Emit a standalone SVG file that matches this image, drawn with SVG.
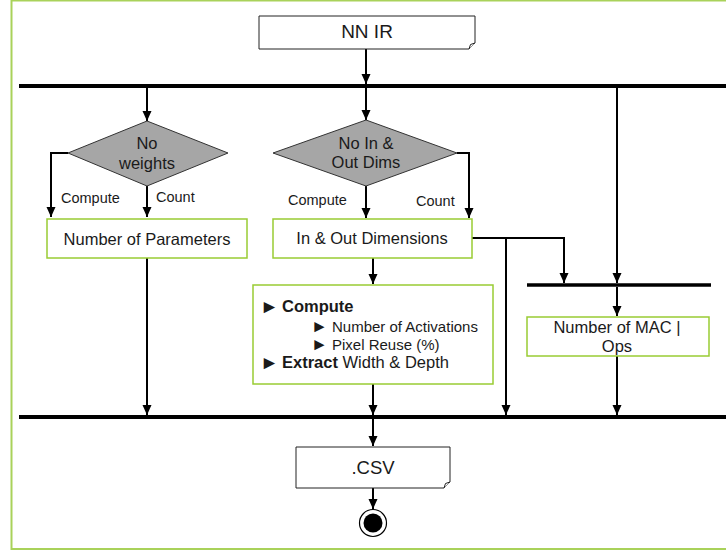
<svg xmlns="http://www.w3.org/2000/svg" width="726" height="554" viewBox="0 0 726 554">
  <defs>
    <marker id="arrow" markerUnits="userSpaceOnUse" markerWidth="10" markerHeight="10" viewBox="0 0 10 10" refX="10" refY="5" orient="auto">
      <path d="M0,0.5 L10,5 L0,9.5 Z" fill="#000"/>
    </marker>
  </defs>
  <style>
    text { font-family: "Liberation Sans", Arial, sans-serif; fill: #1a1a1a; }
    .frame { fill: none; stroke: #a9d25a; stroke-width: 2; }
    .box { fill: #fff; stroke: #99cc33; stroke-width: 1.5; }
    .doc { fill: #fff; stroke: #222; stroke-width: 1; }
    .decision { fill: #a6a6a6; stroke: #333; stroke-width: 1; }
    .bar { stroke: #000; stroke-width: 4; }
    .sub-bar { stroke: #000; stroke-width: 3.5; }
    .flow-arrow { fill: none; stroke: #000; stroke-width: 2; marker-end: url(#arrow); }
    .t-main { font-size: 16.5px; text-anchor: middle; }
    .t-title { font-size: 19px; text-anchor: middle; }
    .t-label { font-size: 14.5px; }
    .t-item { font-size: 16.5px; }
    .t-sub { font-size: 15px; }
    .bullet { font-size: 19px; }
    .bullet-sub { font-size: 17px; }
    .bold { font-weight: bold; }
  </style>

  <!-- outer frame -->
  <rect class="frame" x="11.5" y="0.5" width="730" height="548.5"/>

  <!-- synchronisation bars -->
  <g id="bars">
    <line class="bar" x1="19" y1="86" x2="726" y2="86"/>
    <line class="bar" x1="19" y1="417" x2="726" y2="417"/>
    <line class="sub-bar" x1="527" y1="285" x2="711" y2="285"/>
  </g>

  <!-- connectors -->
  <g id="connectors">
    <line class="flow-arrow" x1="366" y1="49" x2="366" y2="84"/>
    <!-- left branch -->
    <line class="flow-arrow" x1="147" y1="88" x2="147" y2="121"/>
    <polyline class="flow-arrow" points="68,153 51,153 51,217"/>
    <line class="flow-arrow" x1="147" y1="186" x2="147" y2="217"/>
    <line class="flow-arrow" x1="147" y1="258" x2="147" y2="415"/>
    <!-- middle branch -->
    <line class="flow-arrow" x1="366" y1="88" x2="366" y2="120"/>
    <line class="flow-arrow" x1="366" y1="186" x2="366" y2="218"/>
    <polyline class="flow-arrow" points="457,153 469,153 469,218"/>
    <line class="flow-arrow" x1="373" y1="258" x2="373" y2="284"/>
    <line class="flow-arrow" x1="373" y1="384" x2="373" y2="415"/>
    <polyline class="flow-arrow" points="472,238 564,238 564,283"/>
    <line class="flow-arrow" x1="506" y1="238" x2="506" y2="415"/>
    <!-- right branch -->
    <line class="flow-arrow" x1="617" y1="88" x2="617" y2="283"/>
    <line class="flow-arrow" x1="617" y1="287" x2="617" y2="316"/>
    <line class="flow-arrow" x1="617" y1="356" x2="617" y2="415"/>
    <!-- output -->
    <line class="flow-arrow" x1="373" y1="419" x2="373" y2="446"/>
    <line class="flow-arrow" x1="373" y1="488" x2="373" y2="509"/>
  </g>

  <g id="nn-ir">
    <path class="doc" d="M259,16 H475 V43 L469,49 H259 Z"/>
    <path class="doc" d="M469,49 L470.5,44.5 L475,43"/>
    <text class="t-title" x="367" y="38">NN IR</text>
  </g>

  <g id="no-weights">
    <polygon class="decision" points="147,121 228,153 147,186 68,153"/>
    <text class="t-main" x="147" y="149">No</text>
    <text class="t-main" x="147" y="169">weights</text>
    <text class="t-label" x="61" y="203">Compute</text>
    <text class="t-label" x="156" y="202">Count</text>
  </g>

  <g id="num-params">
    <rect class="box" x="47" y="219" width="200" height="39"/>
    <text class="t-main" x="147" y="245">Number of Parameters</text>
  </g>

  <g id="no-dims">
    <polygon class="decision" points="366,120 457,153 366,186 273,153"/>
    <text class="t-main" x="366" y="149">No In &amp;</text>
    <text class="t-main" x="366" y="168">Out Dims</text>
    <text class="t-label" x="288" y="205">Compute</text>
    <text class="t-label" x="416" y="206">Count</text>
  </g>

  <g id="in-out-dims">
    <rect class="box" x="273" y="219" width="199" height="39"/>
    <text class="t-main" x="372" y="244">In &amp; Out Dimensions</text>
  </g>

  <g id="compute">
    <rect class="box" x="253" y="285" width="240" height="99"/>
    <text class="bullet" x="260" y="313">►</text>
    <text class="t-item bold" x="282" y="312">Compute</text>
    <text class="bullet-sub" x="311" y="332">►</text>
    <text class="t-sub" x="332" y="332">Number of Activations</text>
    <text class="bullet-sub" x="311" y="350">►</text>
    <text class="t-sub" x="332" y="350">Pixel Reuse (%)</text>
    <text class="bullet" x="260" y="369">►</text>
    <text class="t-item" x="282" y="368"><tspan class="bold">Extract</tspan> Width &amp; Depth</text>
  </g>

  <g id="mac-ops">
    <rect class="box" x="527" y="317" width="182" height="39"/>
    <text class="t-main" x="617" y="333">Number of MAC |</text>
    <text class="t-main" x="617" y="352">Ops</text>
  </g>

  <g id="csv">
    <path class="doc" d="M296,447 H450 V482 L444,488 H296 Z"/>
    <path class="doc" d="M444,488 L445.5,483.5 L450,482"/>
    <text class="t-title" x="373" y="474" style="font-size:18.5px">.CSV</text>
  </g>

  <g id="end">
    <circle cx="373" cy="523" r="13.5" fill="#fff" stroke="#000" stroke-width="1.2"/>
    <circle cx="373" cy="523" r="9.5" fill="#000"/>
  </g>
</svg>
